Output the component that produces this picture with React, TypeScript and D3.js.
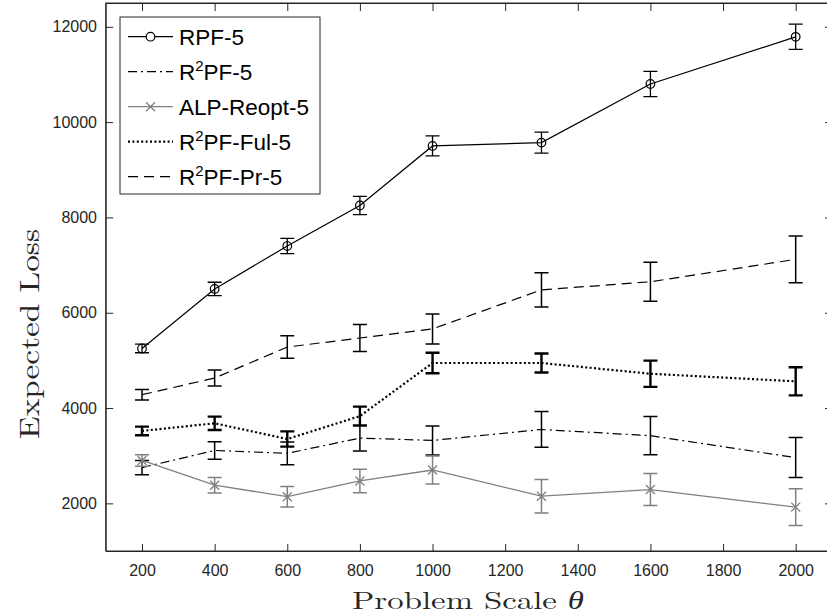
import React, { useEffect, useRef } from "react";
import * as d3 from "d3";

// problem scales (x) and the five series with their error half-widths
const scales = [200, 400, 600, 800, 1000, 1300, 1600, 2000];
const xTicks = [200, 400, 600, 800, 1000, 1200, 1400, 1600, 1800, 2000];
const yTicks = [2000, 4000, 6000, 8000, 10000, 12000];

const rpf = [5250, 6500, 7400, 8250, 9500, 9570, 10800, 11790];
const rpfErr = [90, 140, 160, 190, 210, 220, 265, 265];
const r2pf = [2750, 3110, 3050, 3370, 3320, 3550, 3420, 2960];
const r2pfErr = [150, 185, 240, 270, 305, 375, 400, 420];
const alp = [2900, 2380, 2140, 2470, 2700, 2150, 2290, 1920];
const alpErr = [120, 165, 215, 245, 295, 350, 335, 385];
const ful = [3520, 3680, 3350, 3830, 4945, 4945, 4720, 4560];
const fulErr = [90, 140, 160, 200, 215, 200, 275, 295];
const pr = [4280, 4630, 5280, 5470, 5660, 6480, 6650, 7120];
const prErr = [110, 170, 235, 285, 315, 360, 410, 490];

const seriesNames = ["RPF-5", "R2PF-5", "ALP-Reopt-5", "R2PF-Ful-5", "R2PF-Pr-5"];

export default function App() {
  const ref = useRef<SVGSVGElement>(null);

  useEffect(() => {
    const svg = d3.select(ref.current);
    svg.selectAll("*").remove();

    const W = 827, H = 615;
    const left = 105.7, right = 832, top = 3, bottom = 551;
    const axisColor = "#262626";
    const tickFont = "'Liberation Sans', Arial, Helvetica, sans-serif";
    const fmt = d3.format("d");

    const x = d3.scaleLinear().domain([100, 2100]).range([left, right]);
    const y = d3.scaleLinear().domain([1000, 12500]).range([bottom, top]);

    svg.attr("width", W).attr("height", H);
    svg.append("rect").attr("width", W).attr("height", H).attr("fill", "#fff");

    // axes (MATLAB style: ticks pointing inward, box on)
    const gx = svg
      .append("g")
      .attr("transform", `translate(0,${bottom})`)
      .call(d3.axisBottom(x).tickValues(xTicks).tickFormat(fmt).tickSizeInner(-7).tickSizeOuter(0).tickPadding(13.5));
    const gy = svg
      .append("g")
      .attr("transform", `translate(${left},0)`)
      .call(d3.axisLeft(y).tickValues(yTicks).tickFormat(fmt).tickSizeInner(-7.5).tickSizeOuter(0).tickPadding(8.7));
    const gt = svg
      .append("g")
      .attr("transform", `translate(0,${top})`)
      .call(d3.axisTop(x).tickValues(xTicks).tickSizeInner(-8).tickSizeOuter(0).tickFormat(() => ""));
    const gr = svg
      .append("g")
      .attr("transform", `translate(${right},0)`)
      .call(d3.axisRight(y).tickValues(yTicks).tickSizeInner(-7).tickSizeOuter(0).tickFormat(() => ""));

    [gx, gy, gt, gr].forEach((g) => {
      g.selectAll("path,line").attr("stroke", axisColor).attr("stroke-width", 1);
      g.selectAll("text")
        .attr("fill", axisColor)
        .style("font-family", tickFont)
        .style("font-size", "16px");
    });

    const series = [
      { v: rpf, e: rpfErr, color: "#000", dash: null, lw: 1.2, elw: 1.3, marker: "o" },
      { v: r2pf, e: r2pfErr, color: "#000", dash: "9,4,2,4", lw: 1.2, elw: 1.5, marker: null },
      { v: alp, e: alpErr, color: "#808080", dash: null, lw: 1.3, elw: 1.5, marker: "x" },
      { v: ful, e: fulErr, color: "#000", dash: "2,2.4", lw: 2.2, elw: 2.4, marker: null },
      { v: pr, e: prErr, color: "#000", dash: "10,6", lw: 1.2, elw: 1.5, marker: null },
    ];

    const line = d3
      .line<number>()
      .x((d, i) => x(scales[i]))
      .y((d) => y(d));

    const capHalf = 7;
    series.forEach((s) => {
      const g = svg.append("g");
      // error bars
      scales.forEach((sc, i) => {
        const cx = x(sc);
        const y0 = y(s.v[i] - s.e[i]);
        const y1 = y(s.v[i] + s.e[i]);
        g.append("path")
          .attr("d", `M${cx},${y0}V${y1}M${cx - capHalf},${y0}H${cx + capHalf}M${cx - capHalf},${y1}H${cx + capHalf}`)
          .attr("fill", "none")
          .attr("stroke", s.color)
          .attr("stroke-width", s.elw);
      });
      g.append("path")
        .datum(s.v)
        .attr("d", line)
        .attr("fill", "none")
        .attr("stroke", s.color)
        .attr("stroke-width", s.lw)
        .attr("stroke-dasharray", s.dash);
      if (s.marker === "o") {
        g.selectAll("circle")
          .data(s.v)
          .join("circle")
          .attr("cx", (d, i) => x(scales[i]))
          .attr("cy", (d) => y(d))
          .attr("r", 4.3)
          .attr("fill", "none")
          .attr("stroke", s.color)
          .attr("stroke-width", 1.2);
      }
      if (s.marker === "x") {
        g.selectAll(".mx")
          .data(s.v)
          .join("path")
          .attr("class", "mx")
          .attr("d", (d, i) => {
            const cx = x(scales[i]), cy = y(d), r = 4.5;
            return `M${cx - r},${cy - r}L${cx + r},${cy + r}M${cx - r},${cy + r}L${cx + r},${cy - r}`;
          })
          .attr("stroke", s.color)
          .attr("stroke-width", 1.3);
      }
    });

    // plot box
    svg.append("rect")
      .attr("x", left).attr("y", top)
      .attr("width", right - left).attr("height", bottom - top)
      .attr("fill", "none").attr("stroke", axisColor).attr("stroke-width", 1);

    // legend
    const lg = svg.append("g");
    lg.append("rect")
      .attr("x", 120).attr("y", 17).attr("width", 200).attr("height", 177)
      .attr("fill", "#fff").attr("stroke", axisColor).attr("stroke-width", 1);
    seriesNames.forEach((name, i) => {
      const s = series[i];
      const cy = 36.7 + i * 35;
      lg.append("line")
        .attr("x1", 128).attr("x2", 173).attr("y1", cy).attr("y2", cy)
        .attr("stroke", s.color).attr("stroke-width", s.lw)
        .attr("stroke-dasharray", s.dash);
      if (s.marker === "o") {
        lg.append("circle").attr("cx", 150.5).attr("cy", cy).attr("r", 4.3)
          .attr("fill", "#fff").attr("stroke", s.color).attr("stroke-width", 1.2);
      }
      if (s.marker === "x") {
        const r = 4.5;
        lg.append("path")
          .attr("d", `M${150.5 - r},${cy - r}L${150.5 + r},${cy + r}M${150.5 - r},${cy + r}L${150.5 + r},${cy - r}`)
          .attr("stroke", s.color).attr("stroke-width", 1.3);
      }
      const t = lg.append("text")
        .attr("x", 179).attr("y", cy + 8)
        .attr("fill", "#000")
        .style("font-family", tickFont)
        .style("font-size", "22.5px");
      if (name.startsWith("R2")) {
        t.append("tspan").text("R");
        t.append("tspan").attr("dy", -9).style("font-size", "15px").text("2");
        t.append("tspan").attr("dy", 9).text(name.slice(2));
      } else {
        t.text(name);
      }
    });

    // axis titles
    const serif = "'Latin Modern Roman', 'CMU Serif', 'Liberation Serif', 'Times New Roman', serif";
    svg.append("text")
      .attr("x", 468).attr("y", 609)
      .attr("text-anchor", "middle")
      .attr("fill", "#262626")
      .attr("textLength", 232)
      .attr("lengthAdjust", "spacingAndGlyphs")
      .style("font-family", serif)
      .style("font-size", "25px")
      .text("Problem Scale ")
      .append("tspan")
      .style("font-style", "italic")
      .text("θ");
    svg.append("text")
      .attr("transform", `translate(39,334) rotate(-90)`)
      .attr("text-anchor", "middle")
      .attr("fill", "#262626")
      .attr("textLength", 210)
      .attr("lengthAdjust", "spacingAndGlyphs")
      .style("font-family", serif)
      .style("font-size", "28px")
      .text("Expected Loss");
  }, []);

  return <svg ref={ref} style={{ position: "absolute", left: 0, top: 0 }} />;
}
